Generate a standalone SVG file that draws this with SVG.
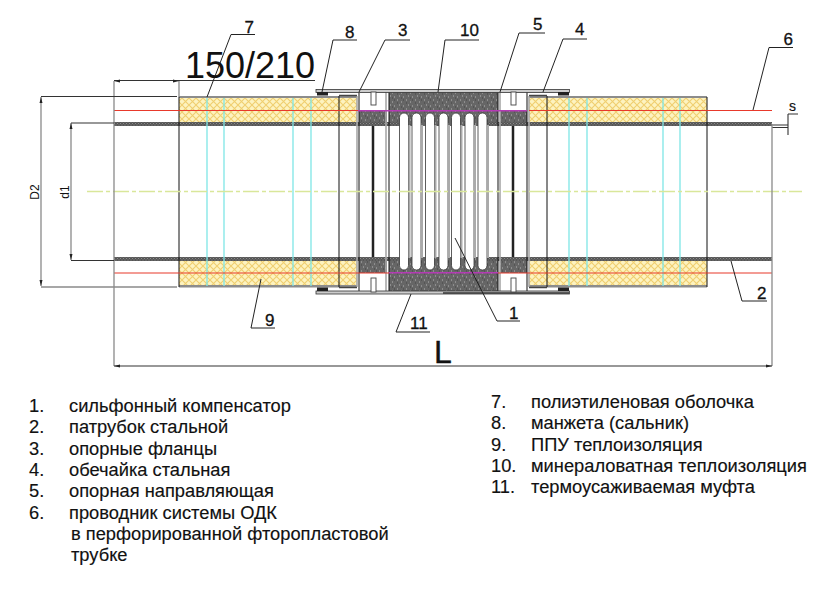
<svg xmlns="http://www.w3.org/2000/svg" width="823" height="589" viewBox="0 0 823 589">
<style>
text{font-family:"Liberation Sans",Arial,sans-serif;fill:#111}
.leg{font-size:18.300px;stroke:#111;stroke-width:.15}
.lab{font-size:17px;stroke:#111;stroke-width:.3}
.ld{fill:none;stroke:#222;stroke-width:1}
.dim{fill:none;stroke:#8a8a8a;stroke-width:1.3}
.dimd{fill:none;stroke:#333;stroke-width:1.1}
.blk{stroke:#111;stroke-width:1;fill:none}
.gry{stroke:#a8a8a8;stroke-width:1.6;fill:none}
.cy{stroke:#7fe6e6;stroke-width:1.3;fill:none}
.ins{fill:url(#foam)}
.wool{fill:url(#wool)}
.pipe{fill:url(#steel)}
.shell{fill:#8c8c8c}
</style>
<defs>
<pattern id="foam" width="7" height="7" patternUnits="userSpaceOnUse">
<rect width="7" height="7" fill="#fdf3c0"/>
<path d="M0 0L7 7M7 0L0 7" stroke="#f0cf70" stroke-width="1.100"/>
</pattern>
<pattern id="wool" width="9" height="9" patternUnits="userSpaceOnUse">
<rect width="9" height="9" fill="#666"/>
<path d="M1 1h1M5 3h1M3 6h1M7 7h1" stroke="#b5b5b5" stroke-width="1"/>
<path d="M7 1h1M1 4h1M5 8h1" stroke="#444" stroke-width="1"/>
</pattern>
<pattern id="steel" width="3" height="3" patternUnits="userSpaceOnUse">
<rect width="3" height="3" fill="#555"/>
<path d="M0 .5h1M1.500 2h1" stroke="#999" stroke-width=".8"/>
</pattern>
</defs>

<g id="pipes">
<rect class="pipe" x="114" y="122" width="286" height="4"/>
<rect class="pipe" x="487" y="122" width="285" height="4"/>
<rect class="pipe" x="114" y="257" width="286" height="4"/>
<rect class="pipe" x="487" y="257" width="285" height="4"/>
</g>

<g id="insulation">
<rect class="ins" x="179" y="97" width="178" height="25"/>
<rect class="ins" x="529" y="97" width="178" height="25"/>
<rect class="ins" x="179" y="261" width="178" height="25"/>
<rect class="ins" x="529" y="261" width="178" height="25"/>
<rect class="shell" x="179" y="96" width="178" height="2"/>
<rect class="shell" x="529" y="96" width="178" height="2"/>
<rect class="shell" x="179" y="285" width="178" height="2.500"/>
<rect class="shell" x="529" y="285" width="178" height="2.500"/>
</g>

<g id="mineral-wool">
<rect class="wool" x="389" y="92" width="109" height="30"/>
<rect class="wool" x="359" y="110" width="28" height="12"/>
<rect class="wool" x="500" y="110" width="27" height="12"/>
<rect class="wool" x="389" y="261" width="109" height="31"/>
<rect class="wool" x="359" y="261" width="28" height="12"/>
<rect class="wool" x="500" y="261" width="27" height="12"/>
<rect class="wool" x="399" y="118" width="88" height="8"/>
<rect class="wool" x="399" y="257" width="88" height="8"/>
</g>

<g id="bellows">
<g fill="#fff" stroke="#333" stroke-width=".8">
<rect x="399.500" y="113" width="9" height="157" rx="4.500"/>
<rect x="412" y="113" width="9" height="157" rx="4.500"/>
<rect x="425.500" y="113" width="9" height="157" rx="4.500"/>
<rect x="439" y="113" width="9" height="157" rx="4.500"/>
<rect x="451.500" y="113" width="9" height="157" rx="4.500"/>
<rect x="465" y="113" width="9" height="157" rx="4.500"/>
<rect x="478" y="113" width="9" height="157" rx="4.500"/>
</g>
<path d="M409.500 125V258M422 125V258M435.500 125V258M449 125V258M461.500 125V258M475 125V258M488 125V258" stroke="#aaa" stroke-width="2" fill="none"/>
</g>

<g id="structure-lines">
<path class="cy" d="M207 98V286M224 98V286M293 98V286M311 98V286M569 98V286M587 98V286M663 98V286M680 98V286"/>
<path class="blk" d="M339 96V287M547 96V287M359 92V292M389 92V292M498 92V292M527 92V292M179 97V287M707 97V287"/>
<path class="gry" d="M357 96V287M386 92V292M500 92V292M529 96V287"/>
<path d="M373 126V257M513 126V257" stroke="#222" stroke-width="2.500" fill="none"/>
<path d="M339 95.500H357M529 95.500H547M339 287.500H357M529 287.500H547" stroke="#444" stroke-width="1.500"/>
</g>

<g id="sleeve">
<rect x="316" y="89.500" width="253.500" height="3" fill="#ccc" stroke="#333" stroke-width=".8"/>
<rect x="316" y="291" width="253.500" height="3" fill="#ccc" stroke="#333" stroke-width=".8"/>
<path d="M443 293H569" stroke="#333" stroke-width="1.500"/>
<rect x="317" y="92" width="11" height="3.500" fill="#222"/>
<rect x="558" y="92" width="11" height="3.500" fill="#222"/>
<rect x="317" y="287.500" width="11" height="3.500" fill="#222"/>
<rect x="558" y="287.500" width="11" height="3.500" fill="#222"/>
</g>

<g id="guides" fill="#fff" stroke="#444" stroke-width=".9">
<rect x="371" y="92" width="5" height="13"/>
<rect x="511" y="92" width="5" height="13"/>
<rect x="371" y="278" width="5" height="14"/>
<rect x="511" y="278" width="5" height="14"/>
</g>

<g id="cable" fill="none" stroke-width="1.200">
<path d="M114 110.500H358M529 110.500H772M114 273H389M498 273H772" stroke="#e8392b"/>
<path d="M358 110.800H527M389 272.800H498" stroke="#b43ab4" stroke-width="1.600"/>
</g>

<path id="axis" d="M87 191.500H802" stroke="#d9e79a" stroke-width="1.500" stroke-dasharray="16 3 4 3" fill="none"/>

<g id="dimensions">
<path class="dim" d="M114 81V366M179 81V97M41 97V286M71 123V260M772 124V366M41 287H177"/>
<path class="dimd" d="M114 80.500H315M41 96.500H177M71 123H114M71 260.500H114M114 366H772M772.500 125H788M772.500 127.500H788M788 114V135M788 114H798"/>
<path d="M114 81l6-1.500v3zM179 81l-6-1.500v3zM114 366l6-1.500v3zM772 366l-6-1.500v3zM41 97l-1.500 6h3zM41 286l-1.500-6h3zM71 123l-1.500 6h3zM71 260l-1.500-6h3z" fill="#222"/>
</g>

<g id="connectors">
<path class="ld" d="M207 97L231 34.500H255"/>
<path class="ld" d="M322 92L333 40H357"/>
<path class="ld" d="M359 92L385 40H410"/>
<path class="ld" d="M438 92L445 40H479"/>
<path class="ld" d="M500 92L519 33H545"/>
<path class="ld" d="M543 92L563 39H587"/>
<path class="ld" d="M753 110L769 47.500H793"/>
<path class="ld" d="M731 261L742 301H767"/>
<path class="ld" d="M261 279L251 328H275"/>
<path class="ld" d="M411 294L396 332H430"/>
<path class="ld" d="M455 238L497 321H520"/>
</g>

<g id="labels">
<text class="lab" x="244.500" y="32.500">7</text>
<text class="lab" x="345" y="38">8</text>
<text class="lab" x="398" y="36">3</text>
<text class="lab" x="460" y="36">10</text>
<text class="lab" x="533" y="30">5</text>
<text class="lab" x="575" y="35">4</text>
<text class="lab" x="783.500" y="45">6</text>
<text class="lab" x="757" y="299">2</text>
<text class="lab" x="265" y="326">9</text>
<text class="lab" x="410" y="329">11</text>
<text class="lab" x="509" y="319">1</text>
<text x="789" y="111" font-size="14" stroke="#111" stroke-width=".2">s</text>
<text x="185" y="78" font-size="36">150/210</text>
<text x="434" y="363" font-size="32" stroke="#111" stroke-width=".4">L</text>
<text transform="translate(39 192) rotate(-90)" text-anchor="middle" font-size="12">D2</text>
<text transform="translate(69 192) rotate(-90)" text-anchor="middle" font-size="12">d1</text>
</g>

<g id="legend">
<text class="leg" x="29" y="411.500">1.</text><text class="leg" x="69" y="411.500">сильфонный компенсатор</text>
<text class="leg" x="29" y="433">2.</text><text class="leg" x="69" y="433">патрубок стальной</text>
<text class="leg" x="29" y="454.500">3.</text><text class="leg" x="69" y="454.500">опорные фланцы</text>
<text class="leg" x="29" y="476">4.</text><text class="leg" x="69" y="476">обечайка стальная</text>
<text class="leg" x="29" y="497">5.</text><text class="leg" x="69" y="497">опорная направляющая</text>
<text class="leg" x="29" y="518.500">6.</text><text class="leg" x="69" y="518.500">проводник системы ОДК</text>
<text class="leg" x="71" y="540">в перфорированной фторопластовой</text>
<text class="leg" x="71" y="561">трубке</text>
<text class="leg" x="491" y="408">7.</text><text class="leg" x="531" y="408">полиэтиленовая оболочка</text>
<text class="leg" x="491" y="429">8.</text><text class="leg" x="531" y="429">манжета (сальник)</text>
<text class="leg" x="491" y="450.500">9.</text><text class="leg" x="531" y="450.500">ППУ теплоизоляция</text>
<text class="leg" x="491" y="472">10.</text><text class="leg" x="531" y="472">минераловатная теплоизоляция</text>
<text class="leg" x="491" y="493">11.</text><text class="leg" x="531" y="493">термоусаживаемая муфта</text>
</g>
</svg>
